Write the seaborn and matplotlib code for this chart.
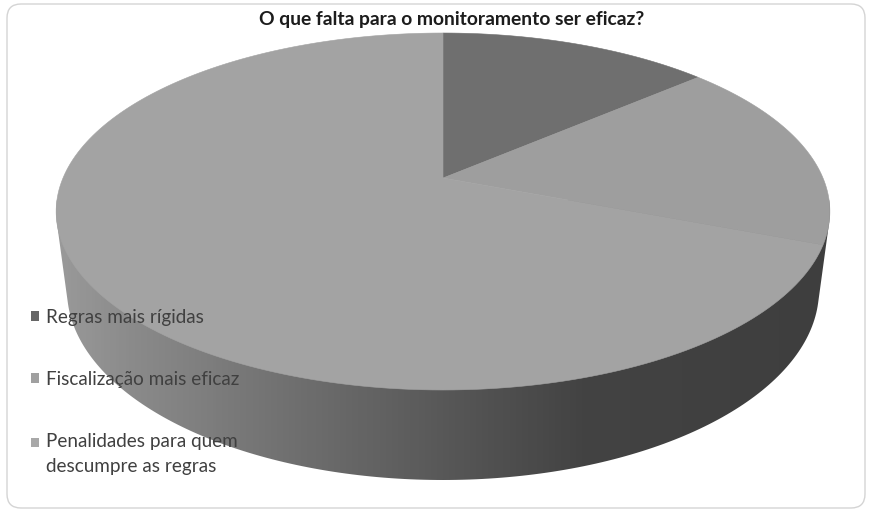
import numpy as np
import matplotlib
matplotlib.use("Agg")
import matplotlib.pyplot as plt
from matplotlib.patches import FancyBboxPatch, Patch, Polygon
from matplotlib.colors import LinearSegmentedColormap
import seaborn as sns

categories = ["Regras mais rígidas", "Fiscalização mais eficaz",
              "Penalidades para quem\ndescumpre as regras"]
values = [13.6, 17.3, 69.1]
title = "O que falta para o monitoramento ser eficaz?"
colors = ["#6f6f6f", "#9e9e9e", "#a3a3a3"]
legend_colors = ["#666666", "#a0a0a0", "#a8a8a8"]

sns.set_theme(style="white")
plt.rcParams["font.family"] = ["Lato", "DejaVu Sans"]

fig, ax = plt.subplots(figsize=(8.7, 5.11), dpi=100)
ax.set_position([0, 0, 1, 1])
ax.set_xlim(0, 870)
ax.set_ylim(511, 0)
ax.axis("off")

# perspective view of the pie disc
APEX = (443, 178)
K, A, B = 0.1877, 172.2, 380.0


def project(theta):
    u, v = np.sin(theta), np.cos(theta)
    d = 1 + K * v
    return APEX[0] + B * u / d, APEX[1] - A * v / d


def hull(points):
    pts = sorted(map(tuple, points))

    def half(seq):
        out = []
        for p in seq:
            while len(out) > 1 and ((out[-1][0] - out[-2][0]) * (p[1] - out[-2][1])
                                    - (out[-1][1] - out[-2][1]) * (p[0] - out[-2][0])) <= 0:
                out.pop()
            out.append(p)
        return out[:-1]
    return np.array(half(pts) + half(pts[::-1]))


ax.add_patch(FancyBboxPatch((7, 4), 858, 504, boxstyle="round,pad=0,rounding_size=14",
                            fc="white", ec="#d4d4d4", lw=1.0, zorder=0))

# side wall: hull of the top disc and the lower rim, shaded left to right
t = np.linspace(0, 2 * np.pi, 361)
top_x, top_y = project(t)
low_x = 443 + 376 * np.sin(t)
low_y = 290 + 190 * np.cos(t)
outline = hull(np.column_stack([np.r_[top_x, low_x], np.r_[top_y, low_y]]))
shade = LinearSegmentedColormap.from_list(
    "side", [(0.0, "#9a9a9a"), (0.1, "#8a8a8a"), (0.3, "#707070"),
             (0.5, "#585858"), (0.68, "#434343"), (1.0, "#3e3e3e")])
im = ax.imshow(np.linspace(0, 1, 256)[None, :], cmap=shade, aspect="auto",
               extent=(56, 830, 490, 200), zorder=1)
ax.set_xlim(0, 870)
ax.set_ylim(511, 0)
clip = Polygon(outline, closed=True, transform=ax.transData, fc="none", ec="none")
ax.add_patch(clip)
im.set_clip_path(clip)

# top face wedges, clockwise from twelve o'clock
edges = np.r_[0, np.cumsum(values)] / np.sum(values) * 2 * np.pi
for i, color in enumerate(colors):
    th = np.linspace(edges[i], edges[i + 1], 200)
    x, y = project(th)
    ax.fill(np.r_[APEX[0], x], np.r_[APEX[1], y], color=color, lw=0.4, zorder=2)

ax.text(451.5, 20, title, ha="center", va="center", fontsize=13.9, fontweight="bold",
        color="#1c1c1c", zorder=4)

handles = [Patch(fc=c, ec="none") for c in legend_colors]
leg = ax.legend(handles, categories, loc="upper left", bbox_to_anchor=(31, 309),
                bbox_transform=ax.transData, frameon=False, fontsize=13.6,
                labelspacing=2.38, handlelength=0.42, handleheight=0.42,
                handletextpad=0.37, borderpad=0, borderaxespad=0, labelcolor="#404040")
leg.set_zorder(5)
for txt in leg.get_texts():
    txt.set_linespacing(1.6)
# the swatch of the two-line entry sits beside its first line
last = leg.legend_handles[2]
last.set_y(last.get_y() + 8.6)

fig.savefig("out.png", dpi=100, facecolor="white")
